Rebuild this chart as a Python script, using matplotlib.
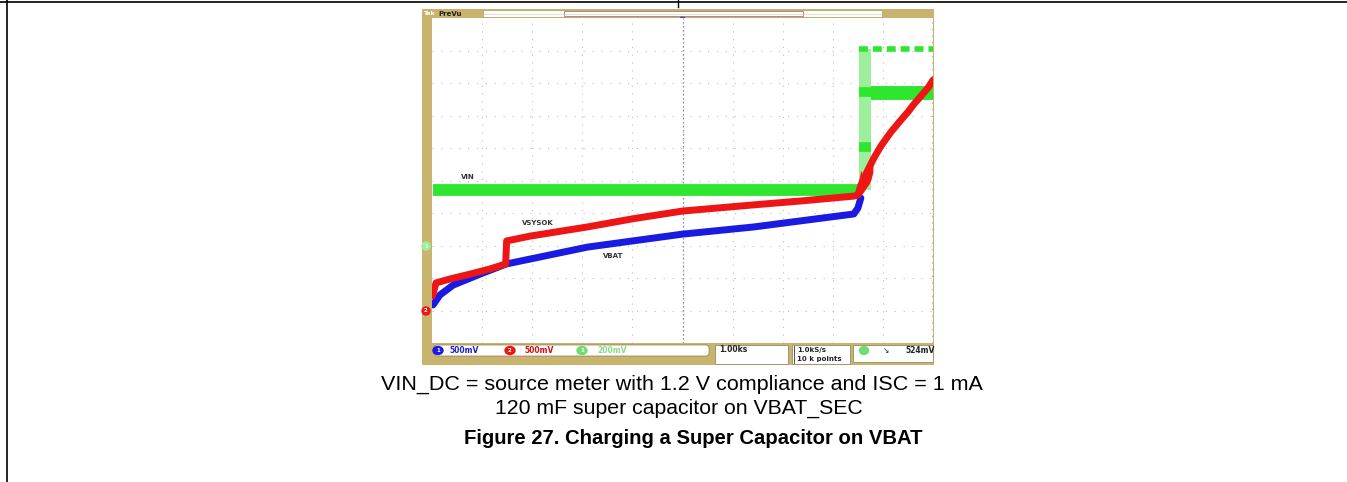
import matplotlib
matplotlib.use("Agg")
import matplotlib.pyplot as plt
from matplotlib.patches import Rectangle, Ellipse, FancyBboxPatch

# ---------------- data (screen divisions: x 0..10, y 0..10) ----------------
vbat_t = [0.02, 0.16, 0.42, 0.96, 1.48, 3.10, 5.00, 6.42, 8.42, 8.50, 8.56]
vbat_v = [1.17, 1.48, 1.78, 2.12, 2.43, 2.95, 3.35, 3.57, 3.97, 4.15, 4.46]

vsys_t = [0.01, 0.08, 0.36, 0.76, 1.16, 1.47, 1.49, 1.96, 3.10, 4.00, 5.00,
          6.42, 7.36, 8.42, 8.50, 8.56, 8.68, 8.82, 8.96, 9.16, 9.36, 9.50,
          9.62, 9.76, 9.90, 10.0]
vsys_v = [1.45, 1.85, 1.97, 2.12, 2.28, 2.43, 3.14, 3.29, 3.57, 3.82, 4.06,
          4.25, 4.37, 4.52, 4.55, 4.86, 5.26, 5.69, 6.06, 6.49, 6.86, 7.11,
          7.35, 7.60, 7.85, 8.09]

burst_t = [8.52, 8.56, 8.60, 8.64, 8.68, 8.72, 8.76, 8.80]
burst_hi = [5.02, 5.32, 5.14, 5.38, 5.20, 5.45, 5.32, 5.63]
burst_lo = [4.49, 4.55, 4.62, 4.71, 4.80, 4.89, 5.02, 5.26]

vin_t = [0.02, 8.52]
vin_v = [4.71, 4.71]
vin_switch_t = [8.52, 8.76]
vin_high = 9.05
vin_mid = 7.69
vin_mid_t = [8.76, 10.0]
vin_high_t = [8.52, 10.0]
vin_blob_v = [6.03, 7.72]

labels = ["VIN", "VSYSOK", "VBAT"]
label_x = [0.72, 2.12, 3.62]
label_y = [5.11, 3.69, 2.68]

ch_scales = ["500mV", "500mV", "200mV"]
timebase = "1.00ks"
rate = ["1.0kS/s", "10 k points"]
trigger = "524mV"

caption1 = "VIN_DC = source meter with 1.2 V compliance and ISC = 1 mA"
caption2 = "120 mF super capacitor on VBAT_SEC"
title = "Figure 27. Charging a Super Capacitor on VBAT"

# ---------------- figure ----------------
W, H = 1347, 482
fig = plt.figure(figsize=(W / 100, H / 100), dpi=100)

def rect(x0, y0, x1, y1):
    return [x0 / W, 1 - y1 / H, (x1 - x0) / W, (y1 - y0) / H]

bg = fig.add_axes([0, 0, 1, 1], zorder=0)
bg.set_xlim(0, W)
bg.set_ylim(H, 0)
bg.axis("off")

KHAKI = "#c8b46f"
GREEN = "#2ee62e"
LGREEN = "#9cf09c"
RED = "#ee1515"
BLUE = "#1a1ae0"

# page border lines
bg.plot([0, W], [1.5, 1.5], color="black", lw=1.2)
bg.plot([6.5, 6.5], [0, H], color="black", lw=1.2)
bg.plot([678, 678], [0, 7], color="black", lw=1.0)

# scope frame
bg.add_patch(Rectangle((422, 8.5), 512, 356, color=KHAKI, lw=0))
# top record bar
bg.add_patch(Rectangle((483, 10), 399, 7, facecolor="white", edgecolor="#b09a60", lw=0.5))
bg.add_patch(Rectangle((564, 11), 239, 5, facecolor="none", edgecolor="#b07070", lw=0.6))
bg.plot([483, 882], [13.5, 13.5], color="#d8c8a0", lw=0.4)
bg.text(423, 13.5, "Tek", color="white", fontsize=4.5, fontweight="bold", va="center")
bg.text(438, 13.5, "PreVu", color="#222222", fontsize=5, fontweight="bold", va="center")
bg.plot([682], [19], marker="v", color="#3050c0", ms=3)

# left channel markers
bg.add_patch(Ellipse((426, 246), 8, 8, color=LGREEN))
bg.text(426, 246, "1", color="white", fontsize=4, ha="center", va="center", fontweight="bold")
bg.add_patch(Ellipse((426, 311), 8, 8, color=RED))
bg.text(426, 311, "2", color="white", fontsize=4, ha="center", va="center", fontweight="bold")

# bottom status boxes
bg.add_patch(FancyBboxPatch((434, 345), 275, 11, boxstyle="round,pad=0,rounding_size=3",
                            facecolor="white", edgecolor="#8a7a50", lw=0.5))
for cx, col, num, txt, tcol, tx in [(438, BLUE, "1", ch_scales[0], "#2020c0", 449),
                                    (510, RED, "2", ch_scales[1], "#d01010", 524),
                                    (582, "#70dd70", "1", ch_scales[2], "#88dd88", 597)]:
    bg.add_patch(Ellipse((cx, 350.5), 10, 8, color=col))
    bg.text(cx, 350.7, num, color="white", fontsize=4, ha="center", va="center", fontweight="bold")
    bg.text(tx, 350.7, txt, color=tcol, fontsize=5.5, va="center", fontweight="bold")

bg.add_patch(Rectangle((715, 345), 73, 19, facecolor="white", edgecolor="#8a7a50", lw=0.5))
bg.text(719, 350, timebase, color="#222222", fontsize=5.5, va="center", fontweight="bold")
bg.add_patch(Rectangle((792, 345), 58, 19, facecolor="white", edgecolor="#8a7a50", lw=0.5))
bg.plot([794, 794], [346, 363], color="#333333", lw=0.6)
bg.text(797, 350, rate[0], color="#222222", fontsize=5, va="center", fontweight="bold")
bg.text(797, 359, rate[1], color="#222222", fontsize=5, va="center", fontweight="bold")
bg.add_patch(Rectangle((853, 345), 80, 17, facecolor="white", edgecolor="#8a7a50", lw=0.5))
bg.add_patch(Ellipse((864, 350.5), 9, 8, color="#70dd70"))
bg.text(886, 350.5, "\u2198", color="#222222", fontsize=5.5, va="center", ha="center")
bg.text(905, 350.5, trigger, color="#222222", fontsize=5.5, va="center", fontweight="bold")

# captions
bg.text(682, 384, caption1, fontsize=15.45, family="Liberation Sans", ha="center", va="center")
bg.text(679, 408, caption2, fontsize=15.3, family="Liberation Sans", ha="center", va="center")
bg.text(693, 438, title, fontsize=14.6, family="Liberation Sans", fontweight="bold",
        ha="center", va="center")

# ---------------- scope screen ----------------
ax = fig.add_axes(rect(432, 18, 933, 343), zorder=1)
ax.set_xlim(0, 10)
ax.set_ylim(0, 10)
ax.axis("off")
ax.add_patch(Rectangle((0, 0), 10, 10, facecolor="white", lw=0, zorder=0))

for k in range(1, 10):
    ax.plot([k, k], [0, 10], ls=(0, (1, 6)), color="#bdbdbd", lw=0.8, zorder=1)
    ax.plot([0, 10], [k, k], ls=(0, (1, 7)), color="#bdbdbd", lw=0.8, zorder=1)
ax.plot([5, 5], [0, 10], ls=(0, (1.2, 2)), color="#8090b0", lw=0.9, zorder=1)
ax.plot([9.98, 9.98], [0, 10], ls=(0, (1, 5)), color="#a0a0a0", lw=0.8, zorder=1)

# VIN (green)
ax.fill_between(vin_switch_t, [vin_v[0]] * 2, [vin_high] * 2, color=LGREEN, lw=0, zorder=2)
ax.plot(vin_t, vin_v, color=GREEN, lw=8.5, solid_capstyle="butt", zorder=3)
ax.plot(vin_mid_t, [vin_mid] * 2, color=GREEN, lw=10, solid_capstyle="butt", zorder=3)
ax.plot(vin_high_t, [vin_high] * 2, color=GREEN, lw=4, ls=(0, (1.6, 0.9)), zorder=3)
for bv in vin_blob_v:
    ax.plot(vin_switch_t, [bv, bv], color=GREEN, lw=7, solid_capstyle="butt", zorder=3)

# VBAT (blue)
ax.plot(vbat_t, vbat_v, color=BLUE, lw=5, solid_capstyle="round", zorder=4)
# VSYSOK (red)
ax.fill_between(burst_t, burst_lo, burst_hi, color=RED, lw=0, zorder=5)
ax.plot(vsys_t, vsys_v, color=RED, lw=5, solid_capstyle="round", solid_joinstyle="round", zorder=5)

for s, x, y in zip(labels, label_x, label_y):
    ax.text(x, y, s, fontsize=5, fontweight="bold", color="#333333", ha="center", va="center", zorder=6)

fig.savefig("out.png", dpi=100)
